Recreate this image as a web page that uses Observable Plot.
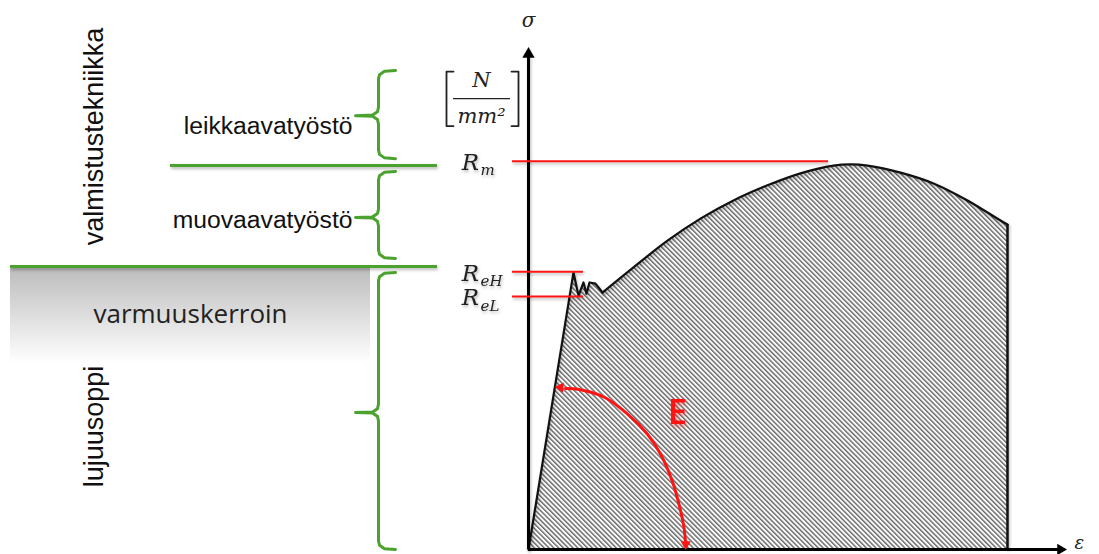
<!DOCTYPE html>
<html><head><meta charset="utf-8">
<script src="https://cdn.jsdelivr.net/npm/d3@7"></script>
<script src="https://cdn.jsdelivr.net/npm/@observablehq/plot@0.6"></script>
<style>
html,body{margin:0;padding:0;background:#fff;}
#chart{width:1099px;height:554px;overflow:hidden;}
</style></head><body><div id="chart"></div>
<script>
// ---- data (strain ε in arbitrary units, stress σ with Rm = 100) ----
const yieldStrain = [0, 2.25, 2.5, 2.75, 2.9, 3.05, 3.35, 3.7];
const yieldStress = [0, 71.6, 65.6, 69.0, 66.1, 69.0, 68.7, 66.4];
const hardenStrain = [3.7, 5.25, 6.95, 8.6, 10.25, 11.95, 13.6, 15.25, 16.1, 16.95, 18.6, 20.25, 21.95, 23.6, 23.95];
const hardenStress = [66.4, 72.9, 79.8, 85.5, 90.2, 94.1, 97.2, 99.2, 99.5, 99.2, 97.4, 94.6, 90.2, 85.0, 84.0];
const fractureStrain = 23.95;
const fractureStress = 84.0;

const levelNames = ["R", "R", "R"];
const levelSubs = ["m", "eH", "eL"];
const levelStress = [100.3, 71.8, 65.4];
const levelEnd = [15.0, 2.75, 2.75];

const arcStrain = [1.85, 2.6, 3.77, 4.93, 5.93, 6.6, 7.18, 7.52, 7.77, 7.85];
const arcStress = [41.6, 41.3, 39.4, 35.1, 29.9, 24.7, 17.8, 11.8, 5.8, 1.9];

const zoneLines = [99.2, 73.1];           // green separators (σ)
const zoneLineStart = [-17.9, -25.9];
const braceTop = [123.8, 97.7, 71.6];
const braceMid = [112.1, 85.8, 35.4];
const braceBottom = [101.0, 75.2, 0];

const sideLabels = ["valmistustekniikka", "lujuusoppi"];
const sideLabelStress = [106.7, 31.8];
const processLabels = ["leikkaavatyöstö", "muovaavatyöstö"];
const processStress = [109.5, 85.2];
const safetyLabel = "varmuuskerroin";

// ---- tables ----
const yieldPts = yieldStrain.map((e, i) => ({e, s: yieldStress[i]}));
const hardPts = hardenStrain.map((e, i) => ({e, s: hardenStress[i]}));
const levels = levelStress.map((s, i) => ({s, end: levelEnd[i], name: levelNames[i], sub: levelSubs[i]}));
const arcPts = arcStrain.map((e, i) => ({e, s: arcStress[i]}));
const zones = zoneLines.map((s, i) => ({s, x1: zoneLineStart[i]}));

const spine = -7.5, hook = -6.65, tip = -8.65;
const bracePts = [];
braceTop.forEach((t, i) => {
  const m = braceMid[i], b = braceBottom[i];
  [[hook, t], [spine + 0.3, t - 0.2], [spine + 0.05, t - 1.1], [spine, t - 2.2],
   [spine, m + 2.2], [spine - 0.05, m + 1.0], [spine - 0.3, m + 0.15], [tip, m],
   [spine - 0.3, m - 0.15], [spine - 0.05, m - 1.0], [spine, m - 2.2],
   [spine, b + 2.2], [spine + 0.05, b + 1.1], [spine + 0.3, b + 0.2], [hook, b]]
   .forEach(([x, y]) => bracePts.push({id: i, x, y}));
});

const red = "#ff1414";
const green = "#4ca22f";
const math = "DejaVu Serif";
const SH = "shadow";

const svg = Plot.plot({
  width: 1099, height: 554, margin: 0,
  x: {domain: [-26.4, 28.55], axis: null},
  y: {domain: [-1.29, 141.86], axis: null},
  style: {background: "white", overflow: "visible"},
  marks: [
    Plot.rect([{x1: -25.9, x2: -7.9, y1: 48.0, y2: 72.8}], {x1: "x1", x2: "x2", y1: "y1", y2: "y2", fill: "url(#fade)"}),
    Plot.areaY(yieldPts, {x: "e", y: "s", fill: "url(#hatch)", curve: "linear"}),
    Plot.areaY(hardPts, {x: "e", y: "s", fill: "url(#hatch)", curve: "catmull-rom"}),
    Plot.line(yieldPts, {x: "e", y: "s", stroke: "#111", strokeWidth: 2.2, ariaDescription: SH}),
    Plot.line(hardPts, {x: "e", y: "s", stroke: "#111", strokeWidth: 2.2, curve: "catmull-rom", ariaDescription: SH}),
    Plot.ruleX([fractureStrain], {y1: 0, y2: fractureStress, stroke: "#111", strokeWidth: 2.5, ariaDescription: SH}),
    // axes
    Plot.ruleX([0], {y1: 0, y2: 127.9, stroke: "#000", strokeWidth: 3, ariaDescription: SH}),
    Plot.ruleY([0], {x1: 0, x2: 26.6, stroke: "#000", strokeWidth: 3}),
    Plot.dot([{x: 0, y: 128.0}], {x: "x", y: "y", symbol: "triangle", r: 4.6, fill: "#000", rotate: 0}),
    Plot.dot([{x: 26.6, y: 0}], {x: "x", y: "y", symbol: "triangle", r: 4.2, fill: "#000", rotate: 90}),
    Plot.text([{x: 0, y: 136.7, t: "σ"}], {x: "x", y: "y", text: "t", fontFamily: math, fontStyle: "italic", fontSize: 20, fill: "#222"}),
    Plot.text([{x: 27.3, y: 1.6, t: "ε"}], {x: "x", y: "y", text: "t", fontFamily: math, fontStyle: "italic", fontSize: 18, textAnchor: "start", fill: "#222"}),
    // unit [N/mm²]
    Plot.line([{x: -3.75, y: 123.5}, {x: -4.1, y: 123.5}, {x: -4.1, y: 109.4}, {x: -3.75, y: 109.4}], {x: "x", y: "y", stroke: "#222", strokeWidth: 1.8}),
    Plot.line([{x: -0.85, y: 123.5}, {x: -0.5, y: 123.5}, {x: -0.5, y: 109.4}, {x: -0.85, y: 109.4}], {x: "x", y: "y", stroke: "#222", strokeWidth: 1.8}),
    Plot.ruleY([116.5], {x1: -3.75, x2: -0.9, stroke: "#222", strokeWidth: 1.4}),
    Plot.text([{x: -2.35, y: 121.2, t: "N"}, {x: -2.35, y: 112.0, t: "mm²"}], {x: "x", y: "y", text: "t", fontFamily: math, fontStyle: "italic", fontSize: 21, fill: "#222"}),
    // strength levels
    Plot.ruleY(levels, {y: "s", x1: -0.8, x2: "end", stroke: red, strokeWidth: 2, ariaDescription: SH}),
    Plot.text(levels, {x: -2.9, y: d => d.s - 0.4, text: "name", fontFamily: math, fontStyle: "italic", fontSize: 23, fill: "#222", ariaDescription: SH}),
    Plot.text(levels, {x: -2.4, y: d => d.s - 2.4, text: "sub", fontFamily: math, fontStyle: "italic", fontSize: 15, textAnchor: "start", fill: "#222", ariaDescription: SH}),
    // green zones
    Plot.ruleY(zones, {y: "s", x1: "x1", x2: -4.55, stroke: green, strokeWidth: 3, ariaDescription: SH}),
    Plot.line(bracePts, {x: "x", y: "y", z: "id", stroke: green, strokeWidth: 3, strokeLinejoin: "round", curve: "linear"}),
    Plot.text(sideLabels, {x: -21.7, y: (d, i) => sideLabelStress[i], text: d => d, rotate: -90, fontFamily: "Liberation Sans", fontSize: 27, fill: "#111"}),
    Plot.text(processLabels, {x: -8.8, y: (d, i) => processStress[i], text: d => d, textAnchor: "end", fontFamily: "Liberation Sans", fontSize: 24.7, fill: "#111"}),
    Plot.text([safetyLabel], {x: -16.9, y: 60.6, text: d => d, fontFamily: "Open Sans", fontSize: 26, fill: "#222"}),
    // modulus E
    Plot.line(arcPts, {x: "e", y: "s", stroke: red, strokeWidth: 3, curve: "catmull-rom"}),
    Plot.dot([{x: 1.6, y: 41.9}], {x: "x", y: "y", symbol: "triangle", r: 3.8, fill: red, rotate: -86}),
    Plot.dot([{x: 7.86, y: 1.4}], {x: "x", y: "y", symbol: "triangle", r: 3.8, fill: red, rotate: 180}),
    Plot.text([{x: 7.45, y: 35.4, t: "E"}], {x: "x", y: "y", text: "t", fontFamily: "Open Sans", fontWeight: 600, fontSize: 35, fill: red, ariaDescription: "glow"})
  ]
});

const defs = d3.select(svg).insert("defs", ":first-child");
const pat = defs.append("pattern").attr("id", "hatch").attr("patternUnits", "userSpaceOnUse")
  .attr("width", 3.4).attr("height", 3.4).attr("patternTransform", "rotate(-45)");
pat.append("rect").attr("width", 3.4).attr("height", 3.4).attr("fill", "#fbfbfb");
pat.append("rect").attr("width", 1.4).attr("height", 3.4).attr("fill", "#666");
const grad = defs.append("linearGradient").attr("id", "fade").attr("x1", 0).attr("y1", 0).attr("x2", 0).attr("y2", 1);
grad.append("stop").attr("offset", "0%").attr("stop-color", "#bcbcbc");
grad.append("stop").attr("offset", "100%").attr("stop-color", "#ffffff");

svg.querySelectorAll('[aria-description="shadow"]').forEach(g => g.style.filter = "drop-shadow(1px 2px 1.5px rgba(0,0,0,0.28))");
svg.querySelectorAll('[aria-description="glow"]').forEach(g => g.style.filter = "drop-shadow(1px 2px 2px rgba(255,0,0,0.45))");

document.getElementById("chart").appendChild(svg);
</script></body></html>
